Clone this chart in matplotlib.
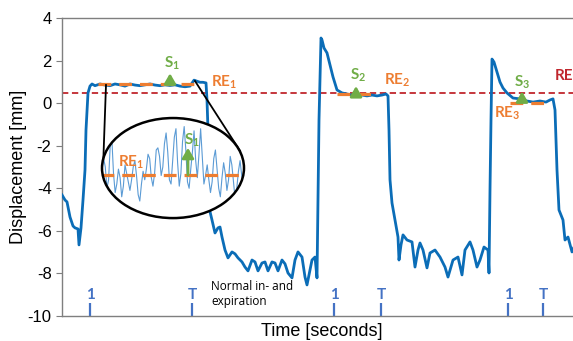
import matplotlib
matplotlib.use("Agg")
import matplotlib.pyplot as plt
from matplotlib.patches import Ellipse

plt.rcParams['font.family'] = ['Liberation Sans', 'DejaVu Sans']
plt.rcParams['axes.unicode_minus'] = False

# breathing trace (time in s, displacement in mm)
t = [0.0, 0.3, 0.5, 0.8, 1.1, 1.3, 1.6, 1.7, 1.9, 2.1, 2.3, 2.4, 2.6, 2.8, 3.0,
     3.3, 3.8, 4.3, 4.8, 5.3, 5.8, 6.3, 6.8, 7.3, 7.8, 8.3, 8.8, 9.3, 9.8, 10.3,
     10.8, 11.3, 11.8, 12.3, 12.8, 13.2, 13.5, 13.8, 14.1, 14.4, 14.5, 14.6, 14.7,
     14.8, 15.0, 15.3, 15.6, 15.8, 16.0, 16.3, 16.6, 17.0, 17.3, 17.6, 18.0, 18.3,
     18.6, 19.0, 19.3, 19.6, 20.0, 20.3, 20.6, 21.0, 21.3, 21.6, 22.0, 22.3, 22.6,
     23.0, 23.3, 23.6, 24.0, 24.3, 24.5, 24.8, 25.0, 25.3, 25.5, 25.6, 25.7, 25.9,
     26.0, 26.2, 26.5, 26.8, 27.1, 27.5, 28.0, 28.5, 29.0, 29.5, 30.0, 30.5, 31.0,
     31.5, 32.0, 32.4, 32.6, 32.7, 32.8, 33.0, 33.3, 33.6, 33.7, 33.9, 34.1, 34.5,
     35.0, 35.3, 35.6, 35.8, 36.1, 36.5, 36.8, 37.3, 37.8, 38.3, 38.6, 39.1, 39.6,
     40.0, 40.3, 40.8, 41.1, 41.5, 41.8, 42.2, 42.6, 42.7, 42.8, 42.9, 43.0, 43.2,
     43.5, 43.8, 44.1, 44.5, 45.1, 45.8, 46.5, 47.1, 47.8, 48.4, 48.8, 49.1, 49.3,
     49.5, 49.7, 50.1, 50.3, 50.6, 51.0, 51.3, 51.8]
disp = [-4.31, -4.55, -4.64, -5.35, -5.77, -5.86, -5.91, -6.66, -5.86, -4.55, -3.14,
        -1.26, 0.48, 0.80, 0.90,
        0.82, 0.90, 0.85, 0.82, 0.90, 0.86, 0.80, 0.90, 0.85, 0.82, 0.86, 0.90, 0.85,
        0.82, 0.86, 0.83, 0.86, 0.80, 0.77, 0.80, 1.08, 1.03, 0.98, 0.98, 0.95, 0.15,
        -1.26, -3.60, -5.10, -5.49, -6.10, -5.86, -5.82, -6.29, -6.90, -7.27, -6.99,
        -7.08, -7.27, -7.46, -7.70, -7.88, -7.37, -7.46, -7.88, -7.51, -7.46, -7.88,
        -7.46, -7.51, -7.88, -7.37, -7.55, -7.98, -8.21, -7.37, -6.99, -7.23, -8.17,
        -8.54, -7.84, -7.37, -7.23, -8.21, -4.69, -0.79, 3.06, 2.97, 2.59, 2.36, 1.79,
        1.23, 0.62, 0.48, 0.43, 0.38, 0.34, 0.38, 0.34, 0.38, 0.34, 0.38, 0.43, 0.34,
        -1.26, -3.60, -4.69, -5.49, -6.29, -7.37, -6.66, -6.19, -6.43, -6.52, -7.70,
        -6.90, -6.57, -6.90, -7.74, -7.04, -6.90, -7.23, -7.70, -8.17, -7.37, -7.23,
        -8.07, -6.90, -6.52, -6.90, -7.70, -7.37, -6.76, -6.90, -7.98, -4.08, -0.79,
        2.07, 1.93, 1.46, 0.99, 0.71, 0.48, 0.24, 0.20, 0.10, 0.05, 0.10, 0.05, 0.15,
        0.20, -0.32, -3.14, -5.02, -5.49, -6.43, -6.29, -6.99, -6.66, -6.43]

# zoomed-in detail of the first breath hold (drawn inside the ellipse)
inset_t0, inset_t1 = 4.0, 18.3
inset_disp = [-3.2, -2.6, -3.0, -4.0, -3.6, -2.0, -1.7, -3.3, -4.2, -3.8, -3.1, -3.5,
              -4.4, -3.9, -2.9, -3.3, -3.7, -4.1, -3.6, -3.0, -2.7, -3.4, -4.3, -4.6,
              -3.8, -3.2, -3.6, -3.1, -2.4, -2.6, -3.5, -3.9, -3.3, -2.2, -2.1, -2.5,
              -3.4, -3.0, -1.9, -1.4, -2.3, -3.6, -3.8, -2.7, -1.6, -1.2, -2.8, -3.9,
              -3.3, -1.8, -1.1, -2.2, -3.7, -4.0, -3.1, -2.3, -1.3, -2.7, -3.5, -2.4,
              -1.2, -2.5, -3.8, -3.4, -2.9, -3.6, -4.2, -3.7, -2.6, -2.2, -3.1, -4.0,
              -4.4, -3.5, -2.8, -3.3, -4.1, -3.6, -2.5, -2.9, -3.7, -4.5, -4.0, -3.2,
              -2.7, -3.4, -3.9, -3.3]

re_ref = 0.5
re_levels = [0.88, 0.45, 0.0]
re_spans = [(3.6, 13.8), (27.5, 31.6), (44.8, 48.3)]
marker_t = [2.8, 13.0, 27.2, 31.9, 44.6, 48.1]
marker_lbl = ['1', 'T', '1', 'T', '1', 'T']

blue = '#0b6db7'
orange = '#ed7d31'
green = '#70ad47'
red = '#c0262d'
mblue = '#4472c4'
gray = '#7f7f7f'

fig = plt.figure(figsize=(5.73, 3.41), dpi=100)
ax = fig.add_axes([62 / 573, 1 - 316 / 341, 523 / 573, 298 / 341])

ax.plot(t, disp, color=blue, lw=2.0, zorder=3)
ax.axhline(re_ref, color=red, lw=1.3, ls=(0, (3.5, 2)), zorder=2)

for lev, (a, b) in zip(re_levels, re_spans):
    ax.plot([a, b], [lev, lev], color=orange, lw=2.3, ls=(0, (4, 2.5)), zorder=4)

lbl_font = dict(family=['Lato', 'DejaVu Sans'], fontweight='bold', fontsize=11)
arrow_kw = dict(arrowstyle='-|>,head_width=0.35,head_length=0.6',
                color=green, lw=2.0, shrinkA=0, shrinkB=0)

# S arrows on the breath-hold levels
arrows = [(10.8, 0.86, 1.40), (29.4, 0.40, 0.80), (46.0, 0.05, 0.55)]
for x, y0, y1 in arrows:
    ax.annotate('', xy=(x, y1), xytext=(x, y0), arrowprops=arrow_kw, zorder=5)
ax.text(11.0, 1.9, 'S$_\\mathregular{1}$', color=green, ha='center', va='center', **lbl_font)
ax.text(29.6, 1.3, 'S$_\\mathregular{2}$', color=green, ha='center', va='center', **lbl_font)
ax.text(46.0, 1.0, 'S$_\\mathregular{3}$', color=green, ha='center', va='center', **lbl_font)
ax.text(14.9, 0.98, 'RE$_\\mathregular{1}$', color=orange, ha='left', va='center', **lbl_font)
ax.text(32.2, 1.08, 'RE$_\\mathregular{2}$', color=orange, ha='left', va='center', **lbl_font)
ax.text(43.2, -0.46, 'RE$_\\mathregular{3}$', color=orange, ha='left', va='center', **lbl_font)
ax.text(49.3, 1.28, 'RE', color=red, ha='left', va='center', **lbl_font)

# inset ellipse
ecx, ecy, ew, eh = 11.1, -3.05, 14.2, 4.7
ell = Ellipse((ecx, ecy), ew, eh, facecolor='white', edgecolor='none', zorder=6)
ax.add_patch(ell)
ax.plot([4.4, 4.1], [0.85, -3.1], color='black', lw=1.3, zorder=5)
ax.plot([13.3, 17.8], [1.04, -2.24], color='black', lw=1.3, zorder=5)
n = len(inset_disp)
it = [inset_t0 + (inset_t1 - inset_t0) * i / (n - 1) for i in range(n)]
ln, = ax.plot(it, inset_disp, color='#5b9bd5', lw=0.8, zorder=7)
ln.set_clip_path(ell)
ol, = ax.plot([3.9, 18.4], [-3.37, -3.37], color=orange, lw=2.3,
              ls=(0, (4, 2.5)), zorder=8)
ol.set_clip_path(ell)
ax.annotate('', xy=(12.6, -2.1), xytext=(12.6, -3.37), arrowprops=arrow_kw, zorder=9)
ax.text(13.0, -1.75, 'S$_\\mathregular{1}$', color=green, ha='center', va='center',
        zorder=9, **lbl_font)
ax.text(5.6, -2.78, 'RE$_\\mathregular{1}$', color=orange, ha='left', va='center',
        zorder=9, **lbl_font)
ax.add_patch(Ellipse((ecx, ecy), ew, eh, facecolor='none', edgecolor='black',
                     lw=1.8, zorder=10))

# breathing cue markers
ax.vlines(marker_t, -10, -9.4, color=mblue, lw=1.6)
for x, s in zip(marker_t, marker_lbl):
    ax.text(x, -9.0, s, color=mblue, ha='center', va='center',
            family=['Lato', 'DejaVu Sans'], fontweight='bold', fontsize=11)
ax.text(14.9, -8.3, 'Normal in- and\nexpiration', ha='left', va='top',
        family=['Open Sans', 'DejaVu Sans'], fontsize=8.5, linespacing=1.2)

ax.set_xlim(0, 52.3)
ax.set_ylim(-10, 4)
ax.set_yticks([4, 2, 0, -2, -4, -6, -8, -10])
ax.set_xticks([])
ax.tick_params(axis='y', direction='out', length=4, color=gray, labelsize=12)
for sp in ax.spines.values():
    sp.set_color(gray)
    sp.set_linewidth(1.0)

ax.set_ylabel('Displacement [mm]', fontsize=13)
ax.yaxis.set_label_coords(-0.066, 0.5)
fig.text(322 / 573, 1 - 332 / 341, 'Time [seconds]', ha='center', va='center', fontsize=13)

fig.savefig('out.png', dpi=100)
